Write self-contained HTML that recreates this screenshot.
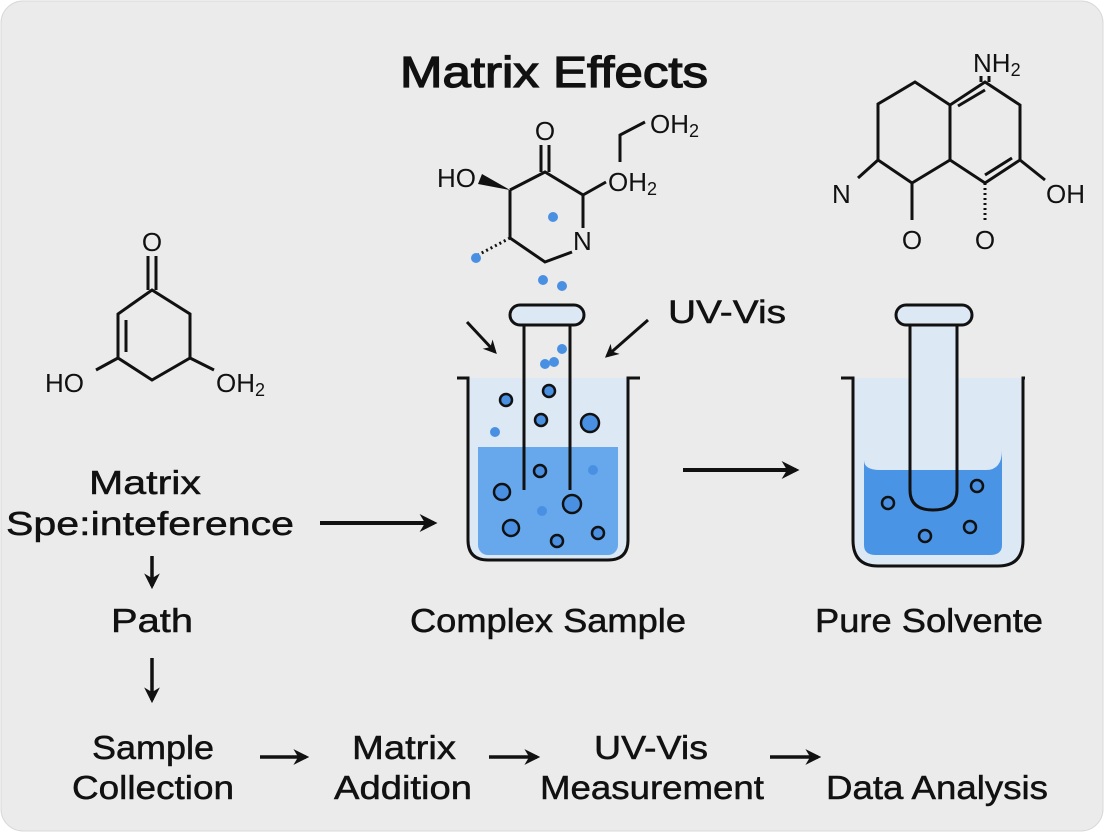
<!DOCTYPE html>
<html><head><style>
html,body{margin:0;padding:0;background:#fff;}
svg{display:block}
text{font-family:"Liberation Sans",sans-serif;fill:#111}
.lb text{stroke:#111;stroke-width:0.5}
</style></head><body>
<svg width="1104" height="832" viewBox="0 0 1104 832" xmlns="http://www.w3.org/2000/svg">
<defs>
<marker id="ah" viewBox="0 0 10 10" refX="8" refY="5" markerWidth="4.5" markerHeight="4.5" orient="auto"><path d="M0,0 L10,5 L0,10 L3,5z" fill="#111"/></marker>
</defs>
<rect x="1" y="1" width="1102" height="830" rx="22" fill="#ebebeb" stroke="#d8d8d8"/>
<text x="400" y="87" font-size="44" stroke="#111" stroke-width="1.3" textLength="308" lengthAdjust="spacingAndGlyphs">Matrix Effects</text>

<!-- left molecule -->
<g stroke="#111" stroke-width="3" fill="none">
<path d="M152,290 L190,314 L190,358 L152,380 L118,358 L118,314 Z"/>
<path d="M126,320 L126,352"/>
<path d="M148,290 L148,256 M156,290 L156,256"/>
<path d="M118,358 L96,370 M190,358 L214,370"/>
</g>
<text x="152" y="251" font-size="26" text-anchor="middle">O</text>
<text x="45" y="392" font-size="26">HO</text>
<text x="216" y="392" font-size="26">OH<tspan font-size="18" dy="4">2</tspan></text>

<!-- middle molecule -->
<g stroke="#111" stroke-width="3" fill="none">
<path d="M510,190 L545,172 L583,195 L583,228 M572,252 L545,262 L510,238 L510,190"/>
<path d="M541,172 L541,145 M549,172 L549,145"/>
<path d="M583,195 L606,182"/>
<path d="M620,162 L620,135 L645,122"/>
<path d="M510,238 L476,256" stroke-dasharray="2,3"/>
</g>
<path d="M510,190 L482,174 L478,184 Z" fill="#111"/>
<text x="545" y="140" font-size="26" text-anchor="middle">O</text>
<text x="437" y="187" font-size="26">HO</text>
<text x="608" y="191" font-size="26">OH<tspan font-size="18" dy="4">2</tspan></text>
<text x="650" y="133" font-size="26">OH<tspan font-size="18" dy="4">2</tspan></text>
<text x="573" y="250" font-size="26">N</text>
<g fill="#4a90e2">
<circle cx="553" cy="217" r="5"/><circle cx="476" cy="258" r="5"/><circle cx="543" cy="280" r="5"/><circle cx="562" cy="286" r="5"/>
<circle cx="562" cy="349" r="5"/><circle cx="545" cy="364" r="5"/>
</g>

<!-- right molecule -->
<g stroke="#111" stroke-width="3" fill="none">
<path d="M985,82 L1020,105 L1020,160 L985,183 L950,160 L950,105 Z"/>
<path d="M958,106 L985,90 M1012,158 L985,175"/>
<path d="M950,105 L915,82 L878,104 L878,160 L912,183 L950,160"/>
<path d="M981,82 L981,76 M989,82 L989,76"/>
<path d="M878,160 L858,178 M912,183 L912,220 M1020,160 L1045,180"/>
<path d="M985,183 L985,220" stroke-dasharray="2,3"/>
</g>
<text x="973" y="72" font-size="26">NH<tspan font-size="18" dy="4">2</tspan></text>
<text x="832" y="203" font-size="26">N</text>
<text x="912" y="249" font-size="26" text-anchor="middle">O</text>
<text x="985" y="249" font-size="26" text-anchor="middle">O</text>
<text x="1046" y="203" font-size="26">OH</text>

<!-- beaker 1 -->
<path d="M457,378 L468,378 L468,540 Q468,560 488,560 L608,560 Q628,560 628,540 L628,378 L640,378" fill="#dde8f5" stroke="#111" stroke-width="3"/>
<rect x="478" y="447" width="140" height="108" rx="10" fill="#67a8ec"/>
<rect x="478" y="447" width="140" height="30" fill="#67a8ec"/>
<path d="M524,325 L524,490 M570,325 L570,490" stroke="#111" stroke-width="3"/>
<rect x="510" y="305" width="74" height="20" rx="10" fill="#dde8f5" stroke="#111" stroke-width="3"/>
<g fill="#4a90e2" stroke="#111" stroke-width="2.5">
<circle cx="506" cy="400" r="6"/><circle cx="549" cy="391" r="6"/><circle cx="541" cy="420" r="6"/><circle cx="590" cy="423" r="9"/>
<circle cx="540" cy="471" r="6"/><circle cx="502" cy="492" r="8"/><circle cx="572" cy="504" r="9"/><circle cx="511" cy="528" r="8"/><circle cx="557" cy="541" r="6"/><circle cx="598" cy="533" r="6"/>
</g>
<g fill="#4a90e2"><circle cx="554" cy="362" r="5"/><circle cx="495" cy="432" r="5"/><circle cx="593" cy="470" r="5"/><circle cx="542" cy="511" r="5"/></g>
<path d="M467,322 L495,352" stroke="#111" stroke-width="3" marker-end="url(#ah)"/>
<path d="M648,320 L607,356" stroke="#111" stroke-width="3" marker-end="url(#ah)"/>
<text x="668" y="323" font-size="32" stroke="#111" stroke-width="0.5" textLength="118" lengthAdjust="spacingAndGlyphs">UV-Vis</text>

<!-- beaker 2 -->
<path d="M841,378 L853,378 L853,540 Q853,566 878,566 L998,566 Q1023,566 1023,540 L1023,378 L1025,378" fill="#dde8f5" stroke="#111" stroke-width="3"/>
<path d="M864,460 Q864,470 880,470 L986,470 Q1002,470 1002,450 L1002,545 Q1002,555 990,555 L876,555 Q864,555 864,545 Z" fill="#4a94e6"/>
<rect x="910" y="326" width="47" height="143" fill="#dde8f5"/>
<path d="M910,325 L910,490 Q910,510 933,510 Q957,510 957,490 L957,325" fill="none" stroke="#111" stroke-width="3"/>
<rect x="896" y="305" width="76" height="20" rx="10" fill="#dde8f5" stroke="#111" stroke-width="3"/>
<g fill="#4a90e2" stroke="#111" stroke-width="2.5">
<circle cx="888" cy="503" r="6"/><circle cx="977" cy="486" r="6"/><circle cx="925" cy="536" r="6"/><circle cx="970" cy="527" r="6"/>
</g>

<!-- arrows -->
<path d="M683,470 L796,470" stroke="#111" stroke-width="4" marker-end="url(#ah)"/>
<path d="M320,523 L434,523" stroke="#111" stroke-width="4" marker-end="url(#ah)"/>
<path d="M152,556 L152,586" stroke="#111" stroke-width="3.5" marker-end="url(#ah)"/>
<path d="M152,658 L152,700" stroke="#111" stroke-width="3.5" marker-end="url(#ah)"/>
<path d="M260,757 L306,757" stroke="#111" stroke-width="3.5" marker-end="url(#ah)"/>
<path d="M489,757 L537,757" stroke="#111" stroke-width="3.5" marker-end="url(#ah)"/>
<path d="M770,757 L818,757" stroke="#111" stroke-width="3.5" marker-end="url(#ah)"/>

<!-- labels -->
<g class="lb" font-size="33">
<text x="89" y="494" textLength="112" lengthAdjust="spacingAndGlyphs">Matrix</text>
<text x="6" y="535" textLength="288" lengthAdjust="spacingAndGlyphs">Spe:inteference</text>
<text x="111" y="632" textLength="82" lengthAdjust="spacingAndGlyphs">Path</text>
<text x="410" y="632" textLength="276" lengthAdjust="spacingAndGlyphs">Complex Sample</text>
<text x="815" y="632" textLength="228" lengthAdjust="spacingAndGlyphs">Pure Solvente</text>
<text x="92" y="759" textLength="122" lengthAdjust="spacingAndGlyphs">Sample</text>
<text x="72" y="799" textLength="162" lengthAdjust="spacingAndGlyphs">Collection</text>
<text x="352" y="759" textLength="104" lengthAdjust="spacingAndGlyphs">Matrix</text>
<text x="334" y="799" textLength="138" lengthAdjust="spacingAndGlyphs">Addition</text>
<text x="594" y="759" textLength="114" lengthAdjust="spacingAndGlyphs">UV-Vis</text>
<text x="540" y="799" textLength="224" lengthAdjust="spacingAndGlyphs">Measurement</text>
<text x="826" y="799" textLength="222" lengthAdjust="spacingAndGlyphs">Data Analysis</text>
</g>
</svg>
</body></html>
